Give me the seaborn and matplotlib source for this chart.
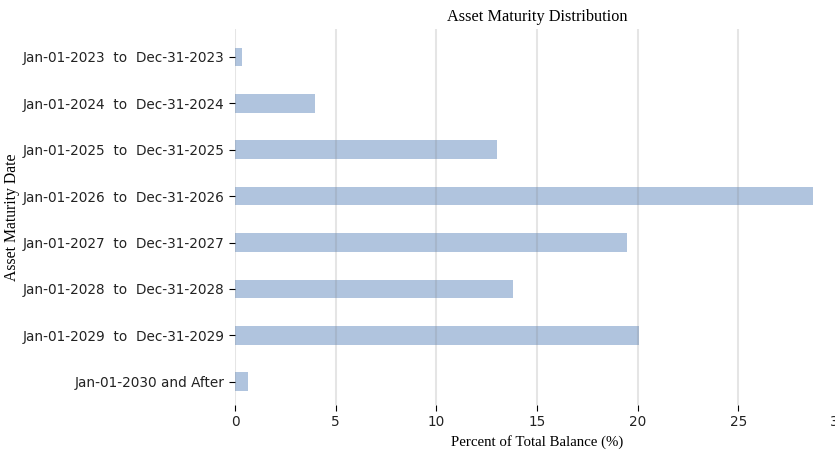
import pandas as pd
import matplotlib
matplotlib.use("Agg")
import matplotlib.pyplot as plt
import seaborn as sns

periods = [
    "Jan-01-2023  to  Dec-31-2023",
    "Jan-01-2024  to  Dec-31-2024",
    "Jan-01-2025  to  Dec-31-2025",
    "Jan-01-2026  to  Dec-31-2026",
    "Jan-01-2027  to  Dec-31-2027",
    "Jan-01-2028  to  Dec-31-2028",
    "Jan-01-2029  to  Dec-31-2029",
    "Jan-01-2030 and After",
]
percent_balance = [0.33, 3.98, 13.03, 28.7, 19.45, 13.8, 20.07, 0.66]
x_ticks = [0, 5, 10, 15, 20, 25, 30]


def main():
    df = pd.DataFrame({"Period": periods, "Percent": percent_balance})

    fig = plt.figure(figsize=(8.35, 4.54), dpi=100)
    ax = fig.add_axes([0.2814, 0.108, 0.7234, 0.828])

    sns.barplot(data=df, y="Period", x="Percent", orient="h",
                color="lightsteelblue", saturation=1, width=0.4, ax=ax)

    ax.set_xlim(0, 30)
    ax.set_ylim(7.5, -0.6)
    ax.set_xticks(x_ticks)
    ax.tick_params(axis="both", labelsize=9.8, length=4, labelcolor="#222222")

    ax.grid(axis="x", color="gray", alpha=0.2, linewidth=1.5)
    ax.set_axisbelow(False)
    for s in ax.spines.values():
        s.set_visible(False)

    serif = "Liberation Serif"
    ax.set_title("Asset Maturity Distribution", fontfamily=serif, fontsize=11.7, pad=6)
    ax.set_xlabel("Percent of Total Balance (%)", fontfamily=serif, fontsize=10.7)
    ax.set_ylabel("Asset Maturity Date", fontfamily=serif, fontsize=11.3, labelpad=2)

    fig.savefig("out.png", dpi=100)
    plt.close(fig)


if __name__ == "__main__":
    main()
